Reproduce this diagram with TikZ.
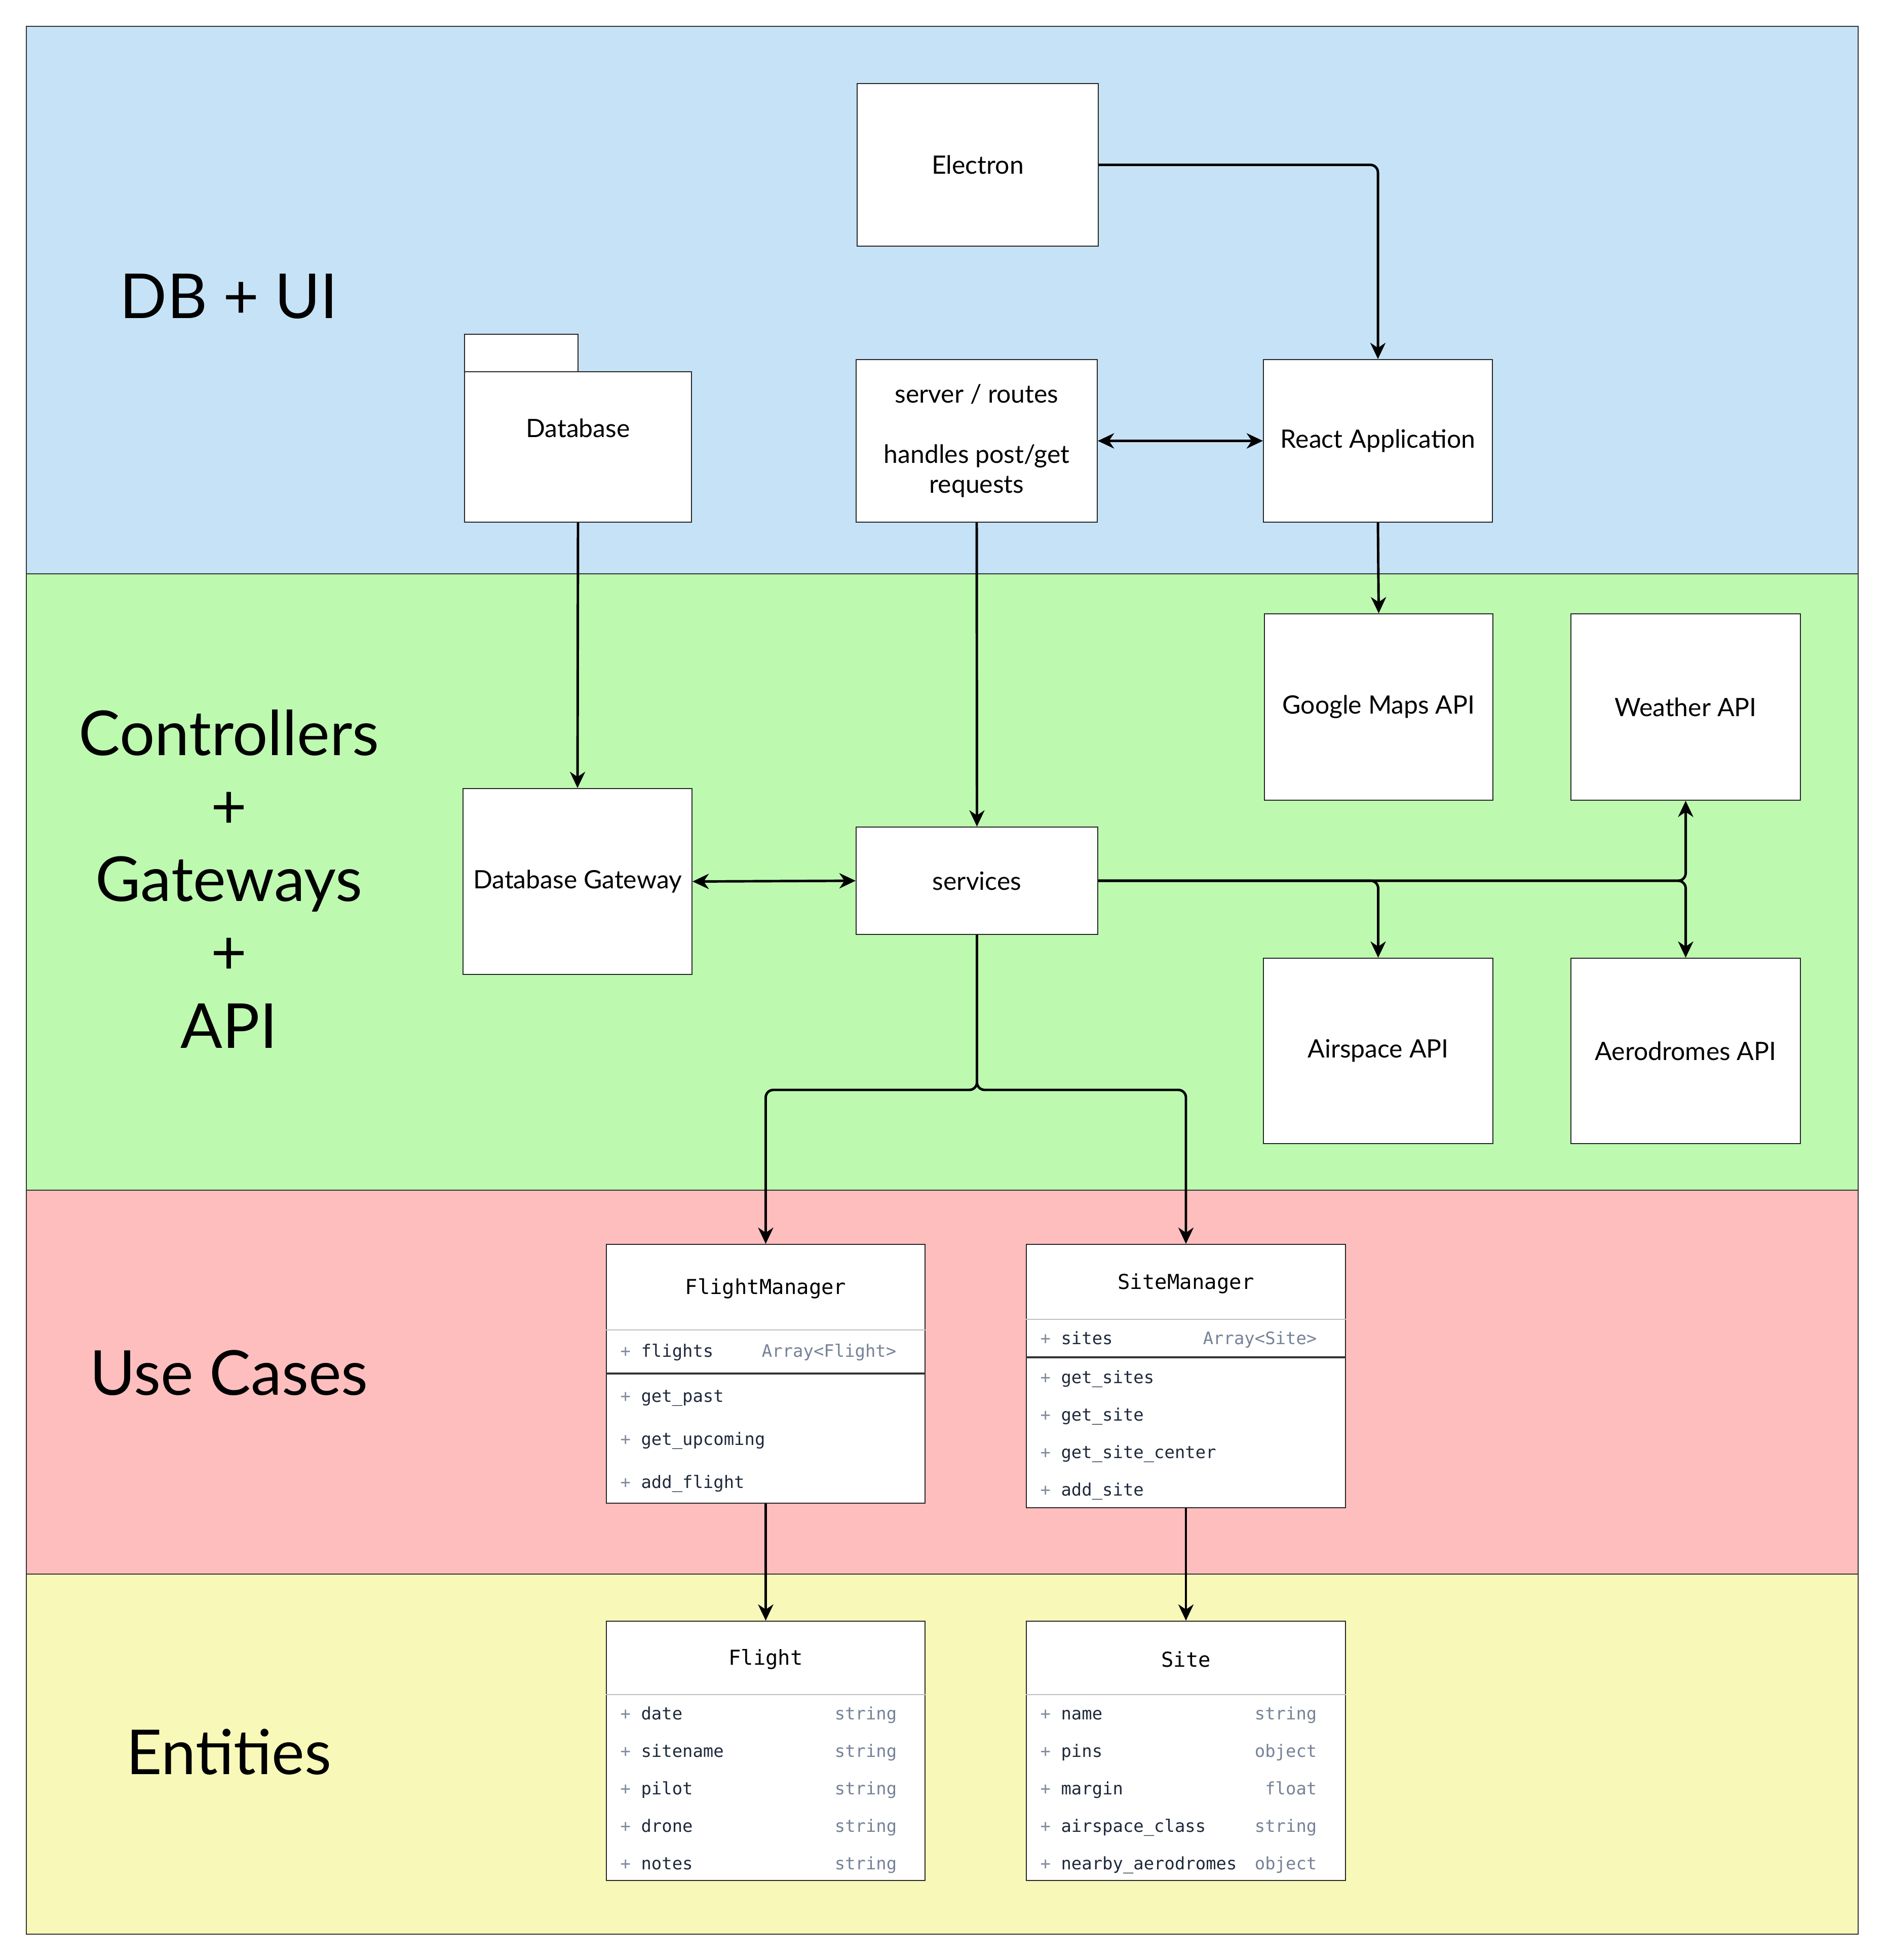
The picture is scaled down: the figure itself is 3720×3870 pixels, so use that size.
\documentclass[tikz,border=0pt]{standalone}
\usepackage{fontspec}
\setmainfont{Lato}
\setmonofont{DejaVu Sans Mono}
\usetikzlibrary{arrows.meta}
\definecolor{bandblue}{RGB}{198,226,246}
\definecolor{bandgreen}{RGB}{189,250,176}
\definecolor{bandred}{RGB}{254,190,190}
\definecolor{bandyellow}{RGB}{248,248,184}
\definecolor{nmcol}{RGB}{30,41,59}
\definecolor{typecol}{RGB}{118,130,150}
\definecolor{pluscol}{RGB}{130,140,158}
\definecolor{sepgray}{RGB}{190,190,190}
\newcommand\lblfont{\fontsize{14.2}{16.8}\selectfont}
\newcommand\bigfont{\fontsize{34.8}{40}\selectfont}
\newcommand\umltitlefont{\fontsize{11.55}{14}\selectfont\ttfamily}
\newcommand\umlattrfont{\fontsize{9.64}{12}\selectfont\ttfamily}
\tikzset{
  band/.style={draw=black!80, line width=0.7pt},
  box/.style={draw=black!85, fill=white, line width=0.6pt, inner sep=0pt, align=center, font=\lblfont},
  wh/.style 2 args={minimum width=#1*0.01cm, minimum height=#2*0.01cm},
  conn/.style={line width=1.4pt, rounded corners=0.15cm},
  arr/.style={-{Stealth[length=0.32cm,width=0.3cm,inset=0.1cm]}},
  arrboth/.style={{Stealth[length=0.32cm,width=0.3cm,inset=0.1cm]}-{Stealth[length=0.32cm,width=0.3cm,inset=0.1cm]}},
  biglabel/.style={font=\bigfont, anchor=base, inner sep=0pt},
  umltitle/.style={font=\umltitlefont, inner sep=0pt},
  attrname/.style={font=\umlattrfont, anchor=mid west, inner sep=0pt, text=nmcol},
  attrtype/.style={font=\umlattrfont, anchor=mid east, inner sep=0pt, text=typecol},
  sepl/.style={draw=sepgray, line width=0.6pt},
  sepd/.style={draw=black!80, line width=0.9pt},
}
\newcommand\attr[1]{\textcolor{pluscol}{+}\ #1}
\begin{document}
\begin{tikzpicture}[x=0.01cm, y=-0.01cm]
\useasboundingbox[fill=white] (0,0) rectangle (3720,3870);

% bands
\path[band, fill=bandblue] (52,52) rectangle (3668,1133);
\path[band, fill=bandgreen] (52,1133) rectangle (3668,2350);
\path[band, fill=bandred] (52,2350) rectangle (3668,3108);
\path[band, fill=bandyellow] (52,3108) rectangle (3668,3819);

% layer labels
\node[biglabel] (lDB) at (452,629) {DB + UI};
\node[biglabel] (lC1) at (452,1491) {Controllers};
\node[biglabel] (lC2) at (452,1635) {+};
\node[biglabel] (lC3) at (452,1779) {Gateways};
\node[biglabel] (lC4) at (452,1923) {+};
\node[biglabel] (lC5) at (452,2069) {API};
\node[biglabel] (lUC) at (452,2754) {Use Cases};
\node[biglabel] (lEN) at (452,3503) {Entities};

% top layer boxes
\node[box, wh={476}{321}] (electron) at (1930,325.5) {Electron};
\node[box, wh={224}{74}] (dbtab) at (1029,697) {};
\node[box, wh={448}{297}] (db) at (1141,882.5) {};
\node[font=\lblfont, inner sep=0pt] (dblabel) at (1141,845) {Database};
\node[box, wh={476}{321}] (server) at (1928,870.5) {server / routes\\\mbox{}\\handles post/get\\requests};
\node[box, wh={452}{321}] (react) at (2720,870.5) {React Application};

% middle layer boxes
\node[box, wh={451}{368}] (google) at (2721.5,1396) {Google Maps API};
\node[box, wh={453}{368}] (weather) at (3327.5,1396) {Weather API};
\node[box, wh={452}{367}] (dbgw) at (1140,1740.5) {Database Gateway};
\node[box, wh={477}{212}] (services) at (1928.5,1739) {services};
\node[box, wh={453}{366}] (airspace) at (2720.5,2075) {Airspace API};
\node[box, wh={453}{366}] (aerodromes) at (3327.5,2075) {Aerodromes API};

% FlightManager
\node[box, wh={629}{511}] (fm) at (1511.5,2712.5) {};
\node[umltitle] (fmtitle) at (1511.5,2544) {FlightManager};
\draw[sepl] (fm.west |- 0,2626) -- (fm.east |- 0,2626);
\draw[sepd] (fm.west |- 0,2712) -- (fm.east |- 0,2712);
\node[attrname] (fma1) at (1224,2671) {\attr{flights}};
\node[attrtype] (fmt1) at (1770,2671) {Array<Flight>};
\node[attrname] (fmm1) at (1224,2760) {\attr{get\_past}};
\node[attrname] (fmm2) at (1224,2845) {\attr{get\_upcoming}};
\node[attrname] (fmm3) at (1224,2930) {\attr{add\_flight}};

% SiteManager
\node[box, wh={630}{520}] (sm) at (2341,2717) {};
\node[umltitle] (smtitle) at (2341,2534) {SiteManager};
\draw[sepl] (sm.west |- 0,2605) -- (sm.east |- 0,2605);
\draw[sepd] (sm.west |- 0,2680) -- (sm.east |- 0,2680);
\node[attrname] (sma1) at (2053,2646) {\attr{sites}};
\node[attrtype] (smt1) at (2600,2646) {Array<Site>};
\node[attrname] (smm1) at (2053,2723) {\attr{get\_sites}};
\node[attrname] (smm2) at (2053,2797) {\attr{get\_site}};
\node[attrname] (smm3) at (2053,2871) {\attr{get\_site\_center}};
\node[attrname] (smm4) at (2053,2945) {\attr{add\_site}};

% Flight
\node[box, wh={629}{512}] (flight) at (1511.5,3457) {};
\node[umltitle] (fltitle) at (1511.5,3276) {Flight};
\draw[sepl] (flight.west |- 0,3346) -- (flight.east |- 0,3346);
\node[attrname] (fla1) at (1224,3387) {\attr{date}};
\node[attrname] (fla2) at (1224,3461) {\attr{sitename}};
\node[attrname] (fla3) at (1224,3535) {\attr{pilot}};
\node[attrname] (fla4) at (1224,3609) {\attr{drone}};
\node[attrname] (fla5) at (1224,3683) {\attr{notes}};
\node[attrtype] (flt1) at (1771,3387) {string};
\node[attrtype] (flt2) at (1771,3461) {string};
\node[attrtype] (flt3) at (1771,3535) {string};
\node[attrtype] (flt4) at (1771,3609) {string};
\node[attrtype] (flt5) at (1771,3683) {string};

% Site
\node[box, wh={630}{512}] (site) at (2341,3457) {};
\node[umltitle] (sititle) at (2341,3276) {Site};
\draw[sepl] (site.west |- 0,3346) -- (site.east |- 0,3346);
\node[attrname] (sia1) at (2053,3387) {\attr{name}};
\node[attrname] (sia2) at (2053,3461) {\attr{pins}};
\node[attrname] (sia3) at (2053,3535) {\attr{margin}};
\node[attrname] (sia4) at (2053,3609) {\attr{airspace\_class}};
\node[attrname] (sia5) at (2053,3683) {\attr{nearby\_aerodromes}};
\node[attrtype] (sit1) at (2600,3387) {string};
\node[attrtype] (sit2) at (2600,3461) {object};
\node[attrtype] (sit3) at (2600,3535) {float};
\node[attrtype] (sit4) at (2600,3609) {string};
\node[attrtype] (sit5) at (2600,3683) {object};

% connectors
\draw[conn, arr] (electron.east) -| (react.north);
\draw[conn, arrboth] (server.east) -- (react.west);
\draw[conn, arr] (db.south) -- (dbgw.north);
\draw[conn, arr] (server.south) -- (services.north);
\draw[conn, arr] (react.south) -- (google.north);
\draw[conn, arrboth] (dbgw.east) -- (services.west);
\draw[conn, arr] (services.east) -| (airspace.north);
\draw[conn, arr] (services.east) -| (weather.south);
\draw[conn, arr] (services.east) -| (aerodromes.north);
\coordinate (split) at (1928.5,2152);
\draw[conn, arr] (services.south) -- (split) -| (fm.north);
\draw[conn, arr] (services.south) -- (split) -| (sm.north);
\draw[conn, arr] (fm.south) -- (flight.north);
\draw[conn, arr] (sm.south) -- (site.north);
\end{tikzpicture}
\end{document}
